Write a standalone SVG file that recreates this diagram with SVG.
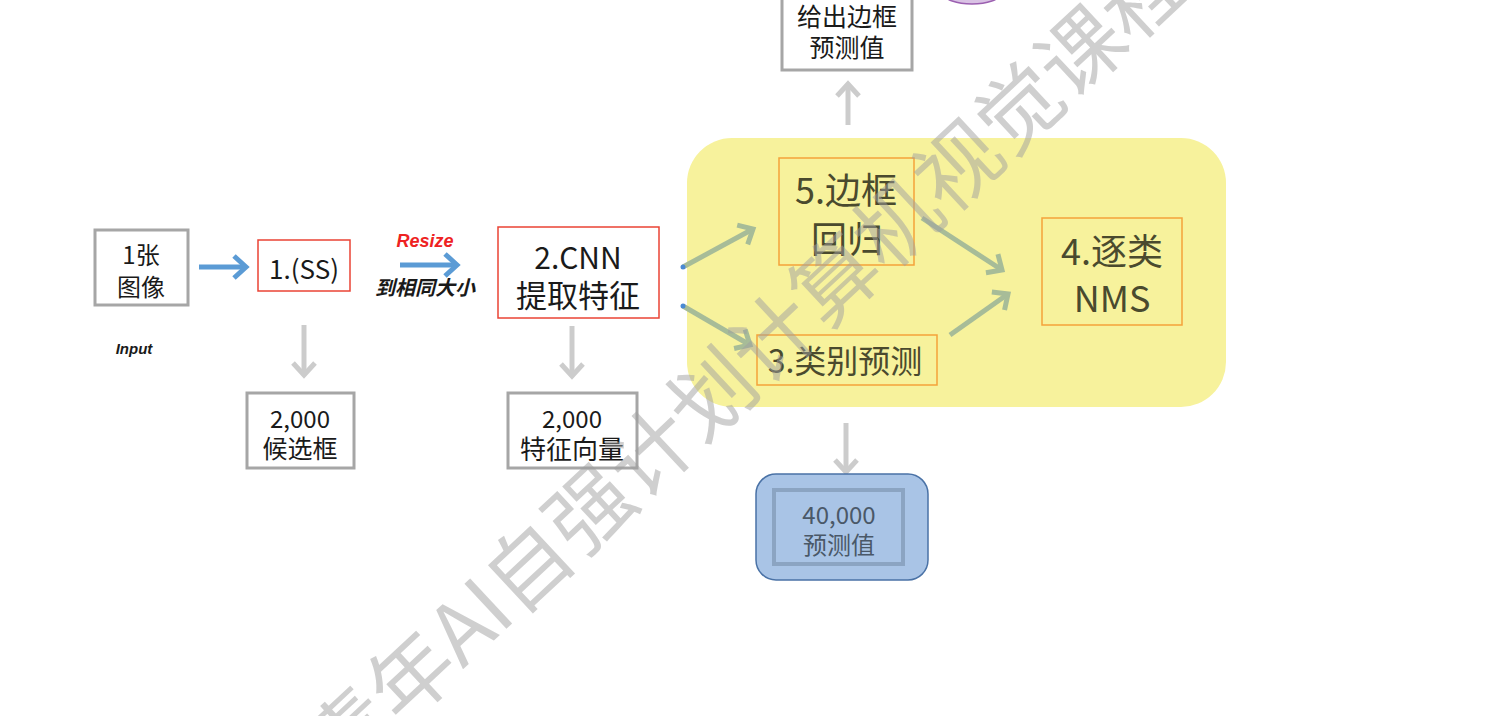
<svg xmlns="http://www.w3.org/2000/svg" width="1497" height="716" viewBox="0 0 1497 716">
<style>
  text { font-family: "Noto Sans CJK SC", "Noto Sans", sans-serif; text-anchor: middle; dominant-baseline: central; }
  .dark { fill: #1a1a1a; }
  .olive { fill: #4a4a2e; }
  .graybox { fill: #ffffff; stroke: #a6a6a6; stroke-width: 3; }
  .redbox { fill: #ffffff; stroke: #ea4335; stroke-width: 1.5; }
  .orangebox { fill: none; stroke: #f5a23a; stroke-width: 1.5; }
  .blue { stroke: #5b9bd5; stroke-width: 5; fill: none; marker-end: url(#mBlue); }
  .gray { stroke: #cccccc; stroke-width: 5; fill: none; marker-end: url(#mGray); }
  .green { stroke: #a7bc98; stroke-width: 5; fill: none; marker-end: url(#mGreen); }
  .note { font-family: "Liberation Sans", "Noto Sans CJK SC", sans-serif; font-style: italic; font-weight: bold; }
  .wm { font-family: "Noto Sans CJK SC", sans-serif; fill: #a0a0a0; opacity: 0.5; text-anchor: start; dominant-baseline: alphabetic; }
</style>
<defs>
  <marker id="mBlue" viewBox="0 0 24 24" markerWidth="24" markerHeight="24" markerUnits="userSpaceOnUse" refX="20" refY="12" orient="auto" overflow="visible">
    <path d="M8,1 L20,12 L8,23" fill="none" stroke="#5b9bd5" stroke-width="5" stroke-linejoin="miter"/>
  </marker>
  <marker id="mGray" viewBox="0 0 24 24" markerWidth="24" markerHeight="24" markerUnits="userSpaceOnUse" refX="20" refY="12" orient="auto" overflow="visible">
    <path d="M8,1 L20,12 L8,23" fill="none" stroke="#cccccc" stroke-width="5" stroke-linejoin="miter"/>
  </marker>
  <marker id="mGreen" viewBox="0 0 24 24" markerWidth="24" markerHeight="24" markerUnits="userSpaceOnUse" refX="20" refY="12" orient="auto" overflow="visible">
    <path d="M8,1 L20,12 L8,23" fill="none" stroke="#a7bc98" stroke-width="5" stroke-linejoin="miter"/>
  </marker>
</defs>

<rect width="1497" height="716" fill="#ffffff"/>

<!-- partial purple shape at top -->
<ellipse cx="972" cy="-6" rx="28" ry="10" fill="#d9c2e4" stroke="#9b5fb0" stroke-width="1.5"/>

<!-- yellow region -->
<g id="region">
  <rect x="687" y="138" width="539" height="269" rx="45" ry="45" fill="#f7f29c"/>
</g>

<g id="connectors">
  <path class="blue" d="M199,267 L246,267"/>
  <path class="blue" d="M400,265 L457,265"/>
  <path class="gray" d="M304,325 L304,375"/>
  <path class="gray" d="M572,326 L572,376"/>
  <path class="green" d="M683,267 L753,229"/>
  <path class="green" d="M683,306 L750,345"/>
  <path class="green" d="M922,218 L1002,270"/>
  <path class="green" d="M950,335 L1008,294"/>
  <path class="gray" d="M848,125 L848,84"/>
  <path class="gray" d="M846,423 L846,472"/>
  <circle cx="683" cy="267" r="2.5" fill="#4a8ad4"/>
  <circle cx="683" cy="306" r="2.5" fill="#4a8ad4"/>
</g>

<g id="image">
  <rect class="graybox" x="95" y="230" width="93" height="75"/>
  <text class="dark" x="141" y="253" font-size="24">1张</text>
  <text class="dark" x="141" y="285" font-size="24">图像</text>
</g>
<g id="input-label">
  <text class="note dark" x="134" y="348" font-size="15">Input</text>
</g>

<g id="ss">
  <rect class="redbox" x="258" y="240" width="92" height="51"/>
  <text class="dark" x="304" y="267" font-size="26">1.(SS)</text>
</g>

<g id="resize-label">
  <text class="note" x="425" y="241" font-size="18" fill="#ee2222">Resize</text>
  <text class="note dark" x="425" y="288" font-size="20">到相同大小</text>
</g>

<g id="cnn">
  <rect class="redbox" x="498" y="227" width="161" height="91"/>
  <text class="dark" x="578" y="256" font-size="30">2.CNN</text>
  <text class="dark" x="578" y="293" font-size="31">提取特征</text>
</g>

<g id="candidates">
  <rect class="graybox" x="247" y="393" width="107" height="75"/>
  <text class="dark" x="300" y="417" font-size="24">2,000</text>
  <text class="dark" x="300" y="447" font-size="25">候选框</text>
</g>

<g id="features">
  <rect class="graybox" x="508" y="393" width="129" height="75"/>
  <text class="dark" x="572" y="417" font-size="24">2,000</text>
  <text class="dark" x="572" y="447" font-size="26">特征向量</text>
</g>

<g id="bbox-reg">
  <rect class="orangebox" x="779" y="158" width="135" height="107"/>
  <text class="olive" x="846" y="188" font-size="36">5.边框</text>
  <text class="olive" x="847" y="237" font-size="36">回归</text>
</g>

<g id="nms">
  <rect class="orangebox" x="1042" y="218" width="140" height="107"/>
  <text class="olive" x="1112" y="249" font-size="36">4.逐类</text>
  <text class="olive" x="1112" y="296" font-size="36">NMS</text>
</g>

<g id="cls">
  <rect class="orangebox" x="757" y="335" width="180" height="50"/>
  <text class="olive" x="845" y="359" font-size="32">3.类别预测</text>
</g>

<g id="bbox-out">
  <rect class="graybox" x="782" y="-10" width="130" height="80"/>
  <text class="dark" x="847" y="15" font-size="25">给出边框</text>
  <text class="dark" x="847" y="46" font-size="25">预测值</text>
</g>

<g id="preds">
  <rect x="756" y="474" width="172" height="106" rx="20" ry="20" fill="#a9c4e6" stroke="#4a72a6" stroke-width="1.5"/>
  <rect x="774" y="490" width="129" height="74" fill="none" stroke="#8ba4c2" stroke-width="4"/>
  <text x="839" y="513" font-size="24" fill="#4a5868">40,000</text>
  <text x="839" y="543" font-size="24" fill="#4a5868">预测值</text>
</g>

<!-- watermark -->
<text class="wm" font-size="84" transform="translate(340,784) rotate(-43)">青年AI自强计划计算机视觉课程</text>
</svg>
